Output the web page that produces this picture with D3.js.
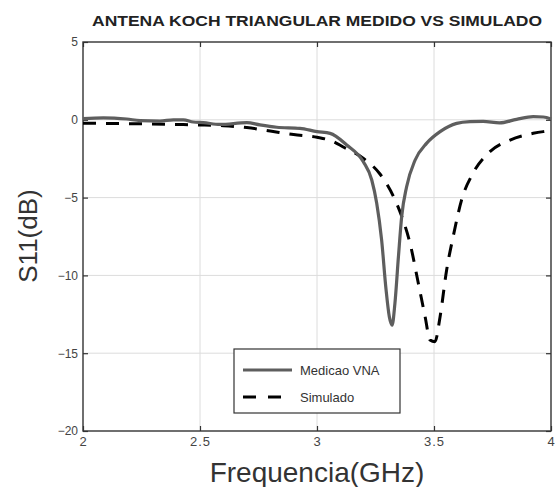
<!DOCTYPE html>
<html>
<head>
<meta charset="utf-8">
<script src="https://cdn.jsdelivr.net/npm/d3@7"></script>
<style>
  body { margin: 0; background: #fff; }
  text { font-family: "Liberation Sans", Arial, sans-serif; }
</style>
</head>
<body>
<svg width="557" height="487"></svg>
<script>
"use strict";

const title = "ANTENA KOCH TRIANGULAR MEDIDO VS SIMULADO";

// measured (VNA) curve
const freqMeasured = [2.0, 2.087, 2.187, 2.244, 2.329, 2.386, 2.429, 2.471, 2.514, 2.585, 2.7, 2.756, 2.828, 2.927, 3.0,
  3.056, 3.127, 3.198, 3.234, 3.255, 3.276, 3.295, 3.309, 3.321, 3.333, 3.348, 3.362, 3.383, 3.419, 3.469,
  3.526, 3.597, 3.654, 3.71, 3.78, 3.853, 3.924, 3.967, 4.0];
const s11Measured = [0.08, 0.13, 0.05, -0.05, -0.08, 0.0, 0.0, -0.14, -0.18, -0.3, -0.18, -0.33, -0.48, -0.55, -0.76,
  -0.87, -1.62, -2.7, -3.87, -5.35, -7.7, -10.9, -12.65, -13.2, -11.8, -8.8, -6.2, -4.3, -2.6, -1.5,
  -0.76, -0.23, -0.12, -0.1, -0.2, 0.03, 0.2, 0.18, 0.05];

// simulated curve
const freqSimulated = [2.0, 2.2, 2.4, 2.5, 2.6, 2.7, 2.8, 2.9, 3.0, 3.07, 3.11, 3.2, 3.27, 3.326, 3.362, 3.397,
  3.433, 3.462, 3.483, 3.504, 3.526, 3.554, 3.582, 3.618, 3.668, 3.739, 3.825, 3.924, 3.967, 4.0];
const s11Simulated = [-0.22, -0.25, -0.3, -0.33, -0.38, -0.5, -0.72, -0.95, -1.12, -1.4, -1.73, -2.5, -3.5, -4.9, -6.2, -7.9,
  -10.5, -12.65, -14.15, -14.26, -12.65, -9.65, -7.5, -5.15, -3.4, -2.05, -1.3, -0.87, -0.76, -0.7];

const xTicks = [2, 2.5, 3, 3.5, 4];
const yTicks = [5, 0, -5, -10, -15, -20];
const seriesNames = ["Medicao VNA", "Simulado"];

const svg = d3.select("svg");
const plotLeft = 83, plotRight = 551, plotTop = 42, plotBottom = 431;

const x = d3.scaleLinear().domain([2, 4]).range([plotLeft, plotRight]);
const y = d3.scaleLinear().domain([-20, 5]).range([plotBottom, plotTop]);

// grid
svg.append("g")
  .selectAll("line")
  .data(xTicks.slice(1, -1))
  .enter()
  .append("line")
  .attr("x1", d => x(d)).attr("x2", d => x(d))
  .attr("y1", plotTop).attr("y2", plotBottom)
  .attr("stroke", "#dcdcdc");

svg.append("g")
  .selectAll("line")
  .data(yTicks.slice(1, -1))
  .enter()
  .append("line")
  .attr("x1", plotLeft).attr("x2", plotRight)
  .attr("y1", d => y(d)).attr("y2", d => y(d))
  .attr("stroke", "#dcdcdc");

// axes with inward ticks
const styleAxis = (g, fontSize) => {
  g.select(".domain").remove();
  g.selectAll(".tick line").attr("stroke", "#333").attr("stroke-width", 1.2);
  g.selectAll(".tick text")
    .attr("fill", "#444")
    .style("font-size", fontSize)
    .style("font-family", "'Liberation Sans', Arial, sans-serif");
};

svg.append("g")
  .attr("transform", `translate(0,${plotBottom})`)
  .call(d3.axisBottom(x).tickValues(xTicks).tickSize(-5).tickPadding(5.5).tickFormat(d3.format("")))
  .call(g => styleAxis(g, "13px"))
  .call(g => g.selectAll(".tick text").attr("letter-spacing", "1px"));

svg.append("g")
  .attr("transform", `translate(${plotLeft},0)`)
  .call(d3.axisLeft(y).tickValues(yTicks).tickSize(-5).tickPadding(5).tickFormat(d3.format("")))
  .call(g => styleAxis(g, "12px"));

svg.append("g")
  .attr("transform", `translate(0,${plotTop})`)
  .call(d3.axisTop(x).tickValues(xTicks).tickSize(-5).tickFormat(""))
  .call(g => styleAxis(g, "0px"));

svg.append("g")
  .attr("transform", `translate(${plotRight},0)`)
  .call(d3.axisRight(y).tickValues(yTicks).tickSize(-5).tickFormat(""))
  .call(g => styleAxis(g, "0px"));

// frame
svg.append("rect")
  .attr("x", plotLeft).attr("y", plotTop)
  .attr("width", plotRight - plotLeft).attr("height", plotBottom - plotTop)
  .attr("fill", "none")
  .attr("stroke", "#333")
  .attr("stroke-width", 1.4);

// curves
const line = d3.line()
  .x(d => x(d[0]))
  .y(d => y(d[1]))
  .curve(d3.curveMonotoneX);

svg.append("path")
  .datum(d3.zip(freqSimulated, s11Simulated))
  .attr("d", line)
  .attr("fill", "none")
  .attr("stroke", "#000")
  .attr("stroke-width", 3)
  .attr("stroke-dasharray", "13,10");

svg.append("path")
  .datum(d3.zip(freqMeasured, s11Measured))
  .attr("d", line)
  .attr("fill", "none")
  .attr("stroke", "#5e5e5e")
  .attr("stroke-width", 3.2)
  .attr("stroke-linejoin", "round");

// title and labels
svg.append("text")
  .attr("x", 317)
  .attr("y", 26)
  .attr("text-anchor", "middle")
  .attr("textLength", 450)
  .attr("lengthAdjust", "spacingAndGlyphs")
  .style("font-size", "15px")
  .style("font-weight", "bold")
  .attr("fill", "#222")
  .text(title);

svg.append("text")
  .attr("x", 317)
  .attr("y", 482)
  .attr("text-anchor", "middle")
  .style("font-size", "28px")
  .attr("fill", "#333")
  .text("Frequencia(GHz)");

svg.append("text")
  .attr("transform", "translate(37,236) rotate(-90)")
  .attr("text-anchor", "middle")
  .style("font-size", "26px")
  .attr("fill", "#333")
  .text("S11(dB)");

// legend
const legend = svg.append("g").attr("transform", "translate(234,349)");

legend.append("rect")
  .attr("width", 166).attr("height", 64)
  .attr("fill", "#fff")
  .attr("stroke", "#333")
  .attr("stroke-width", 1.2);

legend.append("line")
  .attr("x1", 9).attr("x2", 58).attr("y1", 21).attr("y2", 21)
  .attr("stroke", "#5e5e5e").attr("stroke-width", 3.2);

legend.append("line")
  .attr("x1", 9).attr("x2", 48).attr("y1", 48).attr("y2", 48)
  .attr("stroke", "#000").attr("stroke-width", 3.2)
  .attr("stroke-dasharray", "13,12");

legend.selectAll("text.lbl")
  .data(seriesNames)
  .enter()
  .append("text")
  .attr("class", "lbl")
  .attr("x", 66)
  .attr("y", (d, i) => 21 + i * 27)
  .attr("dy", "0.35em")
  .style("font-size", "13px")
  .attr("fill", "#333")
  .text(d => d);
</script>
</body>
</html>
